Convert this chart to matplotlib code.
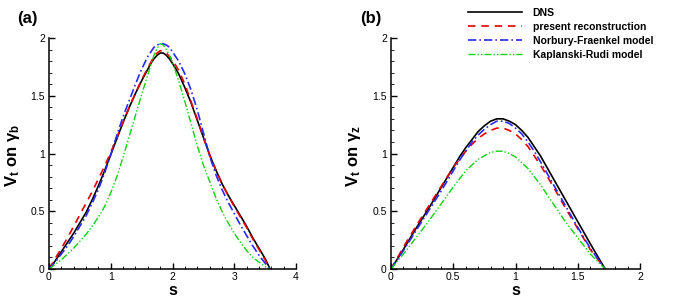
import numpy as np
import matplotlib
matplotlib.use("Agg")
import matplotlib.pyplot as plt
from matplotlib.ticker import MultipleLocator

plt.rcParams['font.family'] = ['Liberation Sans', 'DejaVu Sans']
plt.rcParams['mathtext.default'] = 'regular'

# panel (a): tangential velocity on gamma_b
s_a = [0, 0.1, 0.2, 0.3, 0.4, 0.5, 0.6, 0.7, 0.8, 0.9, 1.0, 1.1, 1.2, 1.3,
       1.4, 1.5, 1.6, 1.65, 1.7, 1.75, 1.8, 1.85, 1.9, 1.95, 2.0, 2.1, 2.2,
       2.3, 2.4, 2.5, 2.6, 2.7, 2.8, 2.9, 3.0, 3.1, 3.2, 3.3, 3.4, 3.5, 3.58]
dns_a = [0, 0.07, 0.15, 0.23, 0.31, 0.40, 0.49, 0.60, 0.72, 0.85, 0.99, 1.13,
         1.27, 1.40, 1.52, 1.63, 1.73, 1.78, 1.82, 1.85, 1.87, 1.87, 1.85,
         1.82, 1.78, 1.69, 1.57, 1.44, 1.29, 1.14, 0.99, 0.86, 0.74, 0.64,
         0.55, 0.46, 0.37, 0.27, 0.18, 0.09, 0]
rec_a = [0, 0.09, 0.18, 0.27, 0.37, 0.47, 0.57, 0.67, 0.78, 0.89, 1.01, 1.14,
         1.27, 1.40, 1.52, 1.64, 1.74, 1.79, 1.84, 1.87, 1.89, 1.89, 1.87,
         1.84, 1.81, 1.72, 1.60, 1.45, 1.30, 1.14, 0.99, 0.86, 0.74, 0.64,
         0.54, 0.45, 0.36, 0.26, 0.17, 0.08, 0]
nf_a = [0, 0.06, 0.13, 0.20, 0.28, 0.37, 0.46, 0.57, 0.69, 0.83, 0.99, 1.16,
        1.32, 1.46, 1.60, 1.73, 1.84, 1.88, 1.92, 1.94, 1.95, 1.95, 1.94,
        1.92, 1.88, 1.80, 1.69, 1.55, 1.38, 1.18, 0.98, 0.82, 0.69, 0.58,
        0.48, 0.38, 0.29, 0.20, 0.12, 0.05, 0]
kr_a = [0, 0.04, 0.08, 0.13, 0.18, 0.24, 0.30, 0.37, 0.45, 0.54, 0.66, 0.80,
        0.97, 1.15, 1.33, 1.51, 1.68, 1.77, 1.85, 1.91, 1.95, 1.94, 1.90,
        1.85, 1.79, 1.63, 1.45, 1.26, 1.07, 0.90, 0.76, 0.62, 0.50, 0.40,
        0.31, 0.23, 0.16, 0.10, 0.06, 0.02, 0]

# panel (b): tangential velocity on gamma_z
s_b = [0, 0.1, 0.2, 0.3, 0.4, 0.5, 0.55, 0.6, 0.65, 0.7, 0.75, 0.8, 0.85,
       0.9, 0.95, 1.0, 1.05, 1.1, 1.15, 1.2, 1.3, 1.4, 1.5, 1.6, 1.72]
dns_b = [0, 0.17, 0.35, 0.52, 0.70, 0.88, 0.97, 1.05, 1.12, 1.19, 1.24, 1.28,
         1.30, 1.30, 1.28, 1.25, 1.20, 1.14, 1.06, 0.98, 0.79, 0.60, 0.41,
         0.22, 0]
rec_b = [0, 0.19, 0.37, 0.54, 0.71, 0.88, 0.95, 1.02, 1.08, 1.13, 1.17, 1.20,
         1.22, 1.22, 1.20, 1.17, 1.12, 1.06, 0.98, 0.90, 0.72, 0.53, 0.35,
         0.17, 0]
nf_b = [0, 0.16, 0.33, 0.50, 0.67, 0.85, 0.94, 1.02, 1.10, 1.16, 1.21, 1.25,
        1.28, 1.28, 1.26, 1.22, 1.17, 1.10, 1.02, 0.93, 0.74, 0.55, 0.36,
        0.18, 0]
kr_b = [0, 0.13, 0.27, 0.41, 0.56, 0.71, 0.78, 0.85, 0.90, 0.95, 0.98, 1.01,
        1.02, 1.02, 1.00, 0.97, 0.92, 0.87, 0.80, 0.73, 0.57, 0.41, 0.27,
        0.13, 0]

labels = ["DNS", "present reconstruction", "Norbury-Fraenkel model",
          "Kaplanski-Rudi model"]

styles = [dict(color="black", lw=1.2, ls="-"),
          dict(color="#e60000", lw=1.2, ls=(0, (4.5, 3.5))),
          dict(color="#2a2aff", lw=1.2, ls=(0, (5, 1.8, 1, 1.8))),
          dict(color="#10d010", lw=1.0, ls=(0, (5, 1.5, 1, 1.5, 1, 1.5)))]

fig = plt.figure(figsize=(6.87, 3.04), dpi=100)
ax1 = fig.add_axes([49 / 687, 1 - 269 / 304, 247 / 687, 231 / 304])
ax2 = fig.add_axes([391 / 687, 1 - 269 / 304, 249 / 687, 231 / 304])


def style_axis(ax, xmax, xmajor, ylab, lab_x):
    ax.set_xlim(0, xmax)
    ax.set_ylim(0, 2)
    ax.xaxis.set_major_locator(MultipleLocator(xmajor))
    ax.xaxis.set_minor_locator(MultipleLocator(xmajor / 5))
    ax.yaxis.set_major_locator(MultipleLocator(0.5))
    ax.yaxis.set_minor_locator(MultipleLocator(0.1))
    ax.xaxis.set_major_formatter(plt.FuncFormatter(lambda v, p: f"{v:g}"))
    ax.yaxis.set_major_formatter(plt.FuncFormatter(lambda v, p: f"{v:g}"))
    ax.spines['top'].set_visible(False)
    ax.spines['right'].set_visible(False)
    for sp in ('left', 'bottom'):
        ax.spines[sp].set_linewidth(1.1)
    ax.tick_params(which='major', direction='in', length=4.5, width=1.0,
                   labelsize=7.5)
    ax.tick_params(axis='x', which='major', pad=2.5)
    ax.tick_params(axis='y', which='major', pad=3)
    ax.tick_params(which='minor', direction='in', length=2.5, width=0.6)
    ax.set_xlabel("s", fontsize=11.5, fontweight='bold')
    ax.xaxis.set_label_coords(0.5, -0.094)
    ax.xaxis.label.set_va('center')
    ax.set_ylabel(ylab, fontsize=12, fontweight='bold')
    ax.yaxis.set_label_coords(lab_x, 0.49)
    ax.yaxis.label.set_va('center')


for y, st in zip([dns_a, rec_a, nf_a, kr_a], styles):
    ax1.plot(s_a, y, **st)
lines = []
for y, st, lab in zip([dns_b, rec_b, nf_b, kr_b], styles, labels):
    ln, = ax2.plot(s_b, y, label=lab, **st)
    lines.append(ln)

style_axis(ax1, 4, 1, r"V$_t$ on $\gamma_b$", -0.148)
style_axis(ax2, 2, 0.5, r"V$_t$ on $\gamma_z$", -0.149)

leg = fig.legend(handles=lines, loc='upper left',
                 bbox_to_anchor=(468 / 687, 1 - 8 / 304), frameon=False,
                 fontsize=7.5, handlelength=5.2, handletextpad=1.0,
                 labelspacing=0.38, borderpad=0, borderaxespad=0)
for t in leg.get_texts():
    t.set_fontweight('bold')

fig.text(17 / 687, 1 - 18 / 304, "(a)", fontsize=12, fontweight='bold',
         va='center', ha='left')
fig.text(360 / 687, 1 - 18 / 304, "(b)", fontsize=12, fontweight='bold',
         va='center', ha='left')

fig.savefig("out.png", dpi=100)
